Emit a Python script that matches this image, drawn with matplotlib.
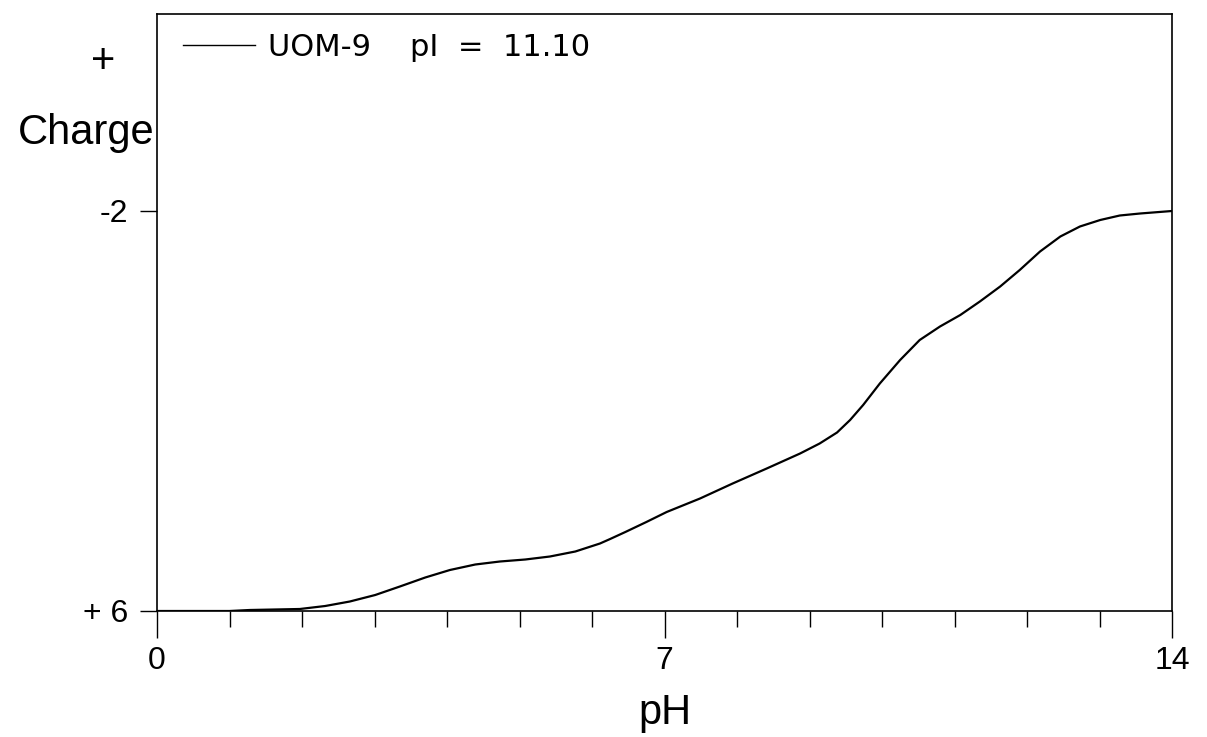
import matplotlib
matplotlib.use("Agg")
import matplotlib.pyplot as plt
from matplotlib.ticker import FixedLocator

plt.rcParams['font.family'] = ['Liberation Sans', 'DejaVu Sans']

# titration curve
ph = [0, 1.0, 1.28, 1.97, 2.32, 2.66, 3.01, 3.35, 3.70, 4.04, 4.39, 4.73, 5.08,
      5.42, 5.77, 6.11, 6.25, 6.46, 6.75, 7.03, 7.49, 7.94, 8.41, 8.87, 9.14,
      9.38, 9.56, 9.74, 9.97, 10.25, 10.52, 10.80, 11.08, 11.35, 11.63, 11.90,
      12.18, 12.46, 12.73, 13.01, 13.28, 13.56, 14.0]
charge = [6.0, 6.0, 5.98, 5.96, 5.90, 5.81, 5.68, 5.51, 5.33, 5.18, 5.07, 5.01, 4.97,
          4.91, 4.81, 4.65, 4.56, 4.42, 4.22, 4.02, 3.75, 3.45, 3.15, 2.85, 2.65,
          2.43, 2.18, 1.88, 1.45, 0.98, 0.58, 0.31, 0.08, -0.19, -0.49, -0.82,
          -1.19, -1.49, -1.69, -1.82, -1.91, -1.95, -2.0]
series_label = 'UOM-9    pI  =  11.10'
xticks = [0, 7, 14]
yticks = [6, -2]
ytick_labels = ['+ 6', '-2']

fig = plt.figure(figsize=(12.07, 7.37), dpi=100)
ax = fig.add_axes([157/1207, 1 - 611/737, 1015/1207, 597/737])

ax.plot(ph, charge, color='k', linewidth=1.6, label=series_label,
        solid_joinstyle='round')

ax.set_xlim(0, 14)
ax.set_ylim(6, -5.94)

ax.xaxis.set_major_locator(FixedLocator(xticks))
ax.xaxis.set_minor_locator(FixedLocator(list(range(15))))
ax.tick_params(axis='x', which='major', direction='out', length=19.5, width=1,
               labelsize=23, pad=6)
ax.tick_params(axis='x', which='minor', direction='out', length=11.5, width=1)
ax.set_yticks(yticks)
ax.set_yticklabels(ytick_labels)
ax.tick_params(axis='y', direction='out', length=12, width=1, labelsize=23, pad=9)

for sp in ax.spines.values():
    sp.set_linewidth(1.2)

ax.set_xlabel('pH', fontsize=30, labelpad=12)

leg = ax.legend(loc='upper left', bbox_to_anchor=(26/1015, 0.968), frameon=False,
                prop={'family': 'DejaVu Sans', 'size': 22},
                handlelength=2.35, handletextpad=0.42,
                borderpad=0, borderaxespad=0)
for h in leg.get_lines():
    h.set_linewidth(1.0)

fig.text(103/1207, 1 - 62/737, '+', fontsize=30, ha='center', va='center')
fig.text(86/1207, 1 - 133/737, 'Charge', fontsize=30, ha='center', va='center',
         bbox=dict(facecolor='white', edgecolor='none', pad=1))

fig.savefig('out.png', dpi=100)
